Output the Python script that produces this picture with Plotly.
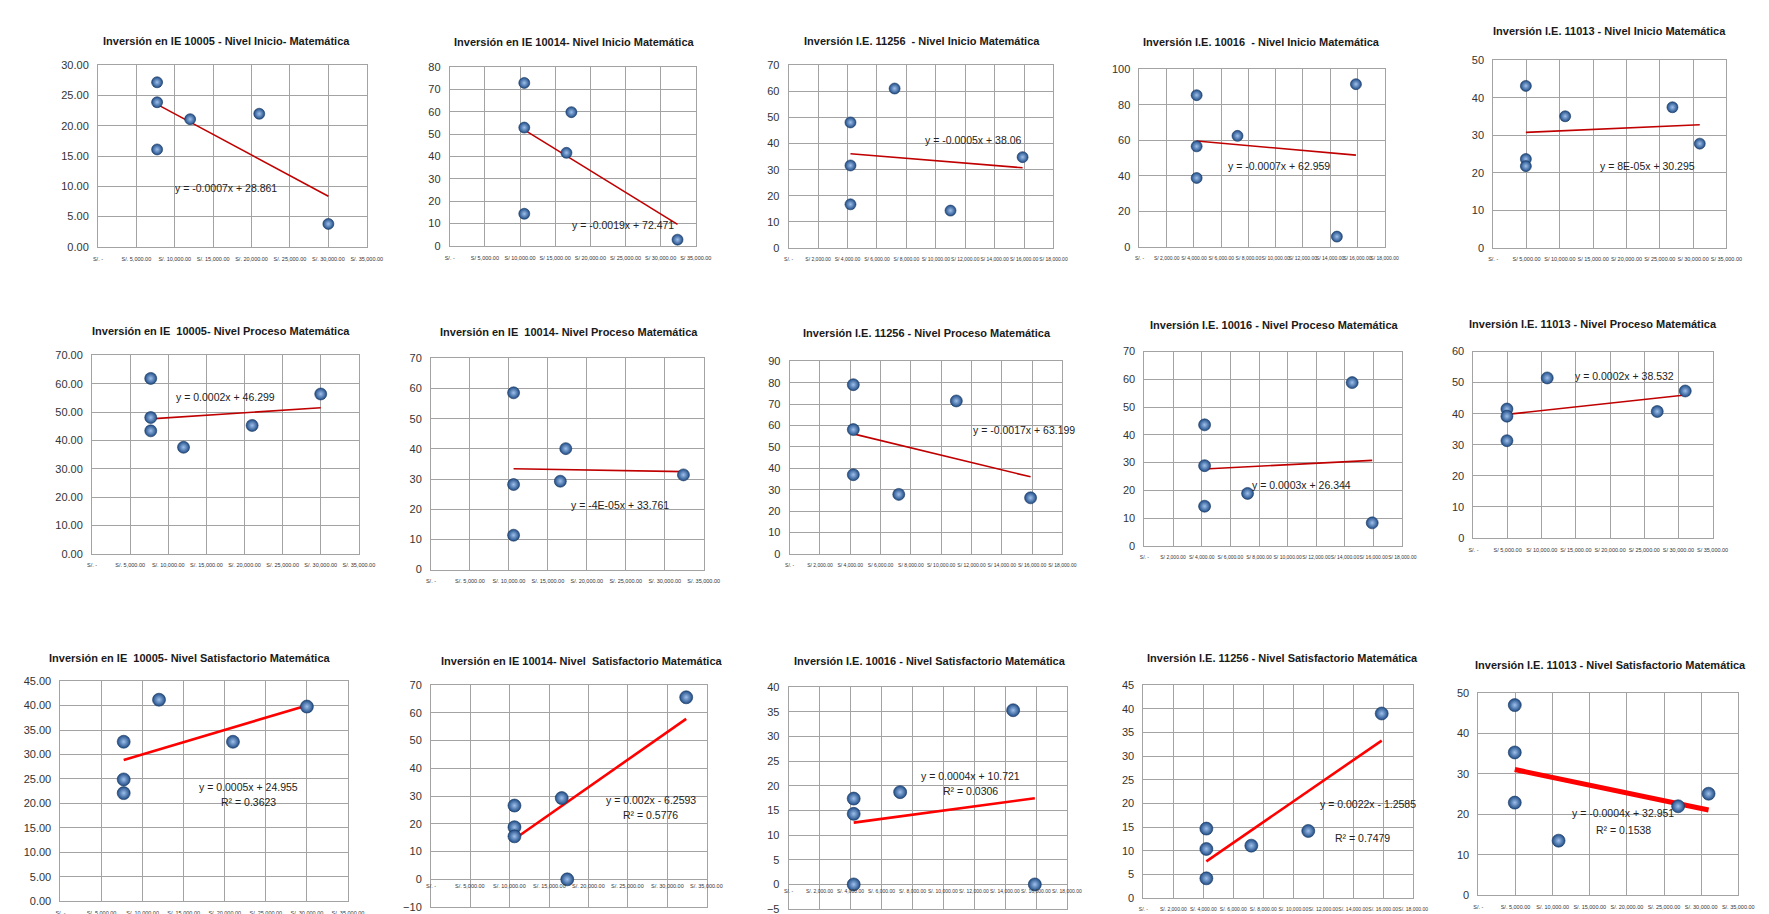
import numpy as np
import plotly.graph_objects as go

W, H = 1769, 914

# ---------------- data ----------------
INV_10005 = [7700, 7700, 7700, 12000, 21000, 30000]
INV_10014 = [10600, 10600, 10600, 16600, 17300, 32400]
INV_11256 = [4200, 4200, 4200, 7200, 11000, 15900]
INV_10016 = [4200, 4200, 4200, 7200, 14500, 15900]
INV_11013 = [4900, 4900, 4900, 10800, 26900, 31000]

INICIO_10005 = [27.2, 23.9, 16.1, 21.1, 22.0, 3.8]
INICIO_10014 = [73.0, 53.0, 14.4, 41.7, 59.9, 2.8]
INICIO_11256 = [48.1, 31.6, 16.7, 61.1, 14.3, 34.8]
INICIO_10016 = [85.4, 56.6, 38.8, 62.5, 5.8, 91.6]
INICIO_11013 = [43.2, 23.7, 21.8, 35.1, 37.5, 27.8]

PROCESO_10005 = [61.9, 48.1, 43.4, 37.6, 45.3, 56.4]
PROCESO_10014 = [58.6, 28.2, 11.4, 29.3, 40.1, 31.4]
PROCESO_11256 = [79.1, 58.1, 37.0, 27.8, 71.5, 26.2]
PROCESO_10016 = [43.6, 28.9, 14.3, 18.9, 58.8, 8.3]
PROCESO_11013 = [41.5, 39.2, 31.3, 51.5, 40.7, 47.3]

SATISF_10005 = [32.6, 24.9, 22.1, 41.2, 32.6, 39.8]
SATISF_10014 = [26.6, 18.8, 15.5, 29.3, 0.0, 65.6]
SATISF_10016 = [17.4, 14.3, 0.0, 18.7, 35.3, 0.0]
SATISF_11256 = [14.7, 10.4, 4.2, 11.1, 14.2, 39.0]
SATISF_11013 = [47.0, 35.3, 22.9, 13.5, 22.0, 25.1]

TITLES = [
    "Inversión en IE 10005 - Nivel Inicio- Matemática",
    "Inversión en IE 10014- Nivel Inicio Matemática",
    "Inversión I.E. 11256  - Nivel Inicio Matemática",
    "Inversión I.E. 10016  - Nivel Inicio Matemática",
    "Inversión I.E. 11013 - Nivel Inicio Matemática",
    "Inversión en IE  10005- Nivel Proceso Matemática",
    "Inversión en IE  10014- Nivel Proceso Matemática",
    "Inversión I.E. 11256 - Nivel Proceso Matemática",
    "Inversión I.E. 10016 - Nivel Proceso Matemática",
    "Inversión I.E. 11013 - Nivel Proceso Matemática",
    "Inversión en IE  10005- Nivel Satisfactorio Matemática",
    "Inversión en IE 10014- Nivel  Satisfactorio Matemática",
    "Inversión I.E. 10016 - Nivel Satisfactorio Matemática",
    "Inversión I.E. 11256 - Nivel Satisfactorio Matemática",
    "Inversión I.E. 11013 - Nivel Satisfactorio Matemática",
]
EQUATIONS = [
    "y = -0.0007x + 28.861", "y = -0.0019x + 72.471", "y = -0.0005x + 38.06",
    "y = -0.0007x + 62.959", "y = 8E-05x + 30.295",
    "y = 0.0002x + 46.299", "y = -4E-05x + 33.761", "y = -0.0017x + 63.199",
    "y = 0.0003x + 26.344", "y = 0.0002x + 38.532",
    "y = 0.0005x + 24.955", "y = 0.002x - 6.2593", "y = 0.0004x + 10.721",
    "y = 0.0022x - 1.2585", "y = -0.0004x + 32.951",
]
R2_LABELS = [None] * 10 + ["R² = 0.3623", "R² = 0.5776", "R² = 0.0306", "R² = 0.7479", "R² = 0.1538"]

TICKS_35K = [0, 5000, 10000, 15000, 20000, 25000, 30000, 35000]
LABELS_35K = ["S/. -", "S/. 5,000.00", "S/. 10,000.00", "S/. 15,000.00", "S/. 20,000.00",
              "S/. 25,000.00", "S/. 30,000.00", "S/. 35,000.00"]
LABELS_35K_B = ["S/. -", "S/ 5,000.00", "S/ 10,000.00", "S/ 15,000.00", "S/ 20,000.00",
                "S/ 25,000.00", "S/ 30,000.00", "S/ 35,000.00"]
TICKS_18K = [0, 2000, 4000, 6000, 8000, 10000, 12000, 14000, 16000, 18000]
LABELS_18K = ["S/. -", "S/. 2,000.00", "S/. 4,000.00", "S/. 6,000.00", "S/. 8,000.00",
              "S/. 10,000.00", "S/. 12,000.00", "S/. 14,000.00", "S/. 16,000.00", "S/. 18,000.00"]
LABELS_18K_B = ["S/. -", "S/ 2,000.00", "S/ 4,000.00", "S/ 6,000.00", "S/ 8,000.00",
                "S/ 10,000.00", "S/ 12,000.00", "S/ 14,000.00", "S/ 16,000.00", "S/ 18,000.00"]

SERIES = [
    (INV_10005, INICIO_10005), (INV_10014, INICIO_10014), (INV_11256, INICIO_11256),
    (INV_10016, INICIO_10016), (INV_11013, INICIO_11013),
    (INV_10005, PROCESO_10005), (INV_10014, PROCESO_10014), (INV_11256, PROCESO_11256),
    (INV_10016, PROCESO_10016), (INV_11013, PROCESO_11013),
    (INV_10005, SATISF_10005), (INV_10014, SATISF_10014), (INV_10016, SATISF_10016),
    (INV_11256, SATISF_11256), (INV_11013, SATISF_11013),
]
XTICKS = [
    (TICKS_35K, LABELS_35K), (TICKS_35K, LABELS_35K_B), (TICKS_18K, LABELS_18K_B),
    (TICKS_18K, LABELS_18K_B), (TICKS_35K, LABELS_35K_B),
    (TICKS_35K, LABELS_35K), (TICKS_35K, LABELS_35K), (TICKS_18K, LABELS_18K_B),
    (TICKS_18K, LABELS_18K_B), (TICKS_35K, LABELS_35K_B),
    (TICKS_35K, LABELS_35K), (TICKS_35K, LABELS_35K), (TICKS_18K, LABELS_18K),
    (TICKS_18K, LABELS_18K), (TICKS_35K, LABELS_35K),
]
Y_RANGES = [(0, 30), (0, 80), (0, 70), (0, 100), (0, 50),
            (0, 70), (0, 70), (0, 90), (0, 70), (0, 60),
            (0, 45), (-10, 70), (-5, 40), (0, 45), (0, 50)]
Y_DTICK = [5, 10, 10, 20, 10,
           10, 10, 10, 10, 10,
           5, 10, 5, 5, 10]
Y_FORMAT = [".2f", "d", "d", "d", "d",
            ".2f", "d", "d", "d", "d",
            ".2f", "d", "d", "d", "d"]

# ---------------- layout (positions / styles, pixels) ----------------
GEOM = [  # plot area x0, x1, y0(top), y1(bottom)
    (86, 358, 52, 236), (442, 691, 54, 235), (785, 1053, 52, 237), (1140, 1388, 56, 236), (1498, 1734, 47, 237),
    (80, 350, 346, 547), (423, 699, 349, 563), (786, 1062, 352, 547), (1145, 1406, 342, 539), (1478, 1720, 342, 531),
    (48, 339, 676, 899), (423, 702, 680, 905), (785, 1067, 682, 907), (1144, 1417, 680, 896), (1483, 1746, 688, 893),
]
TITLE_POS = [
    (216, 27), (568, 28), (920, 27), (1264, 28), (1616, 17),
    (210, 321), (563, 322), (925, 323), (1276, 315), (1599, 314),
    (179, 653), (575, 656), (928, 656), (1285, 653), (1617, 660),
]
EQ_POS = [  # data coordinates
    (16700, 9.8), (24700, 9.3), (12500, 41.4), (10280, 45.6), (23100, 21.8),
    (17550, 55.2), (24240, 21.3), (15460, 58.1), (10960, 22.0), (22100, 52.1),
    (22900, 23.4), (27900, 28.5), (11770, 22.0), (15000, 19.8), (19500, 20.4),
]
R2_POS = [None] * 10 + [(22900, 20.3), (27900, 23.1), (11770, 19.0), (14590, 12.7), (19500, 16.2)]
ZERO_LABEL_PANELS = {11, 12}
LINE_COLOR = ["#C00000"] * 10 + ["#FF0000"] * 5
LINE_WIDTH = [1.6] * 10 + [2.6, 2.6, 2.6, 2.6, 5]
MARKER_SIZE = [11] * 5 + [12] * 5 + [13] * 5
XTICK_SIZE = [5.5, 5.5, 5, 5, 5.5,
              5.5, 5.5, 5, 5, 5.5,
              5.5, 5.5, 5, 5, 5.5]

FONT = "Liberation Sans Narrow, Arial Narrow, Liberation Sans, Arial, sans-serif"
GRID = "#A3A3A3"

fig = go.Figure()
annotations = []
layout = dict(
    width=W, height=H, margin=dict(l=0, r=0, t=0, b=0),
    paper_bgcolor="white", plot_bgcolor="white", showlegend=False,
    font=dict(family=FONT, color="#262626"),
)

for i in range(15):
    n = i + 1
    xa = "xaxis" if n == 1 else f"xaxis{n}"
    ya = "yaxis" if n == 1 else f"yaxis{n}"
    xr = "x" if n == 1 else f"x{n}"
    yr = "y" if n == 1 else f"y{n}"
    x0, x1, y0, y1 = GEOM[i]
    xs, ys = SERIES[i]
    tv, tt = XTICKS[i]
    zero_lbl = i in ZERO_LABEL_PANELS

    layout[xa] = dict(
        domain=[x0 / W, x1 / W], anchor=yr, range=[tv[0], tv[-1]],
        tickmode="array", tickvals=tv, ticktext=tt, tickangle=0,
        showticklabels=not zero_lbl, ticklabelstandoff=6,
        tickfont=dict(size=XTICK_SIZE[i], family=FONT, color="#333"),
        showgrid=True, gridcolor=GRID, gridwidth=1,
        showline=True, linecolor=GRID, mirror=True, zeroline=False,
        ticks="", fixedrange=True,
    )
    layout[ya] = dict(
        domain=[1 - y1 / H, 1 - y0 / H], anchor=xr, range=list(Y_RANGES[i]),
        dtick=Y_DTICK[i], tick0=0, tickformat=Y_FORMAT[i],
        ticklabelstandoff=6,
        tickfont=dict(size=11, family=FONT, color="#333"),
        showgrid=True, gridcolor=GRID, gridwidth=1,
        showline=True, linecolor=GRID, mirror=True, zeroline=False,
        ticks="", fixedrange=True,
    )

    # trend line from least-squares fit of the points
    slope, intercept = np.polyfit(np.array(xs, float), np.array(ys, float), 1)
    lx = np.array([min(xs), max(xs)], float)
    fig.add_trace(go.Scatter(
        x=lx, y=slope * lx + intercept, mode="lines", xaxis=xr, yaxis=yr,
        line=dict(color=LINE_COLOR[i], width=LINE_WIDTH[i]), hoverinfo="skip",
    ))
    fig.add_trace(go.Scatter(
        x=xs, y=ys, mode="markers", xaxis=xr, yaxis=yr,
        marker=dict(size=MARKER_SIZE[i], color="#1F4C86",
                    gradient=dict(type="radial", color="#9EC0EC"),
                    line=dict(width=0.6, color="#17365D")),
    ))

    tx, ty = TITLE_POS[i]
    annotations.append(dict(
        x=tx / W, y=1 - ty / H, xref="paper", yref="paper", text=f"<b>{TITLES[i]}</b>",
        showarrow=False, xanchor="center", yanchor="middle",
        font=dict(size=11, family=FONT, color="#1a1a1a"),
    ))
    ex, ey = EQ_POS[i]
    annotations.append(dict(
        x=ex, y=ey, xref=xr, yref=yr, text=EQUATIONS[i], showarrow=False,
        xanchor="center", yanchor="middle", font=dict(size=10.5, family=FONT, color="#222"),
    ))
    if R2_LABELS[i]:
        rx, ry = R2_POS[i]
        annotations.append(dict(
            x=rx, y=ry, xref=xr, yref=yr, text=R2_LABELS[i], showarrow=False,
            xanchor="center", yanchor="middle", font=dict(size=10.5, family=FONT, color="#222"),
        ))
    if zero_lbl:
        for v, t in zip(tv, tt):
            annotations.append(dict(
                x=v, y=0, xref=xr, yref=yr, text=t, showarrow=False,
                xanchor="center", yanchor="top", yshift=-2,
                font=dict(size=XTICK_SIZE[i], family=FONT, color="#333"),
            ))

layout["annotations"] = annotations
fig.update_layout(**layout)
fig.write_html("out.html")
